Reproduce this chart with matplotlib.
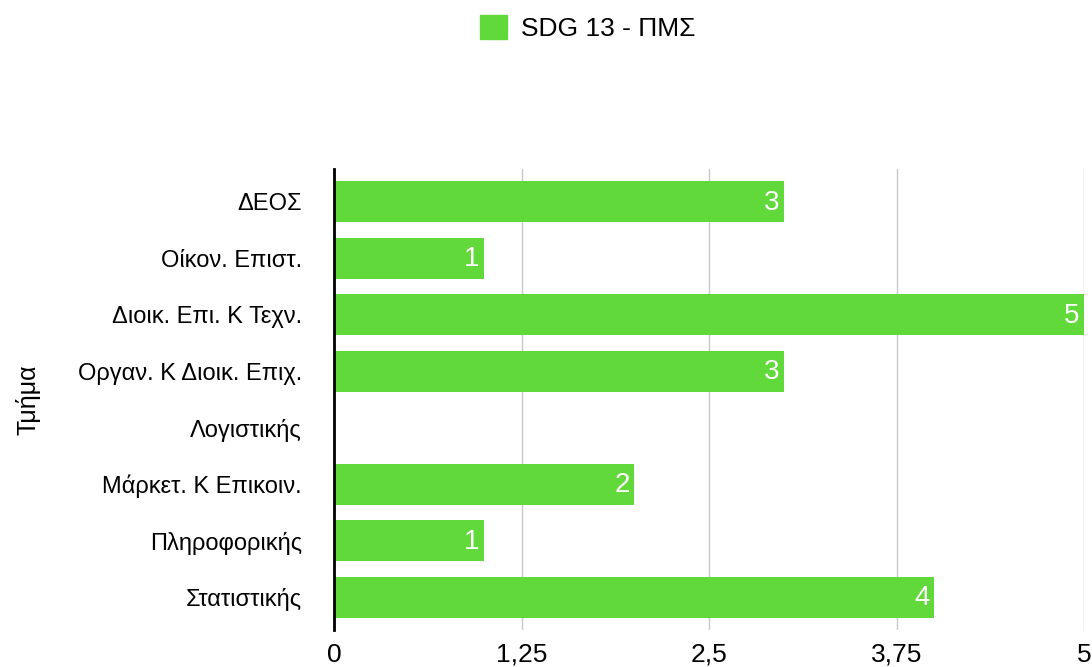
import matplotlib.pyplot as plt
from matplotlib.patches import Patch
from matplotlib.ticker import FuncFormatter

plt.rcParams['font.family'] = ['Liberation Sans', 'DejaVu Sans']

departments = ['ΔΕΟΣ', 'Οίκον. Επιστ.', 'Διοικ. Επι. Κ Τεχν.', 'Οργαν. Κ Διοικ. Επιχ.',
               'Λογιστικής', 'Μάρκετ. Κ Επικοιν.', 'Πληροφορικής', 'Στατιστικής']
values = [3, 1, 5, 3, 0, 2, 1, 4]
xticks = [0, 1.25, 2.5, 3.75, 5]
color = '#62d93a'

fig = plt.figure(figsize=(10.92, 6.67), dpi=100)
ax = fig.add_axes([334 / 1092, 1 - 630 / 667, (1084 - 334) / 1092, (630 - 169) / 667])

ypos = list(range(len(departments)))
bars = ax.barh(ypos, values, height=0.73, color=color, zorder=3)
for y, v in zip(ypos, values):
    if v > 0:
        ax.text(v - 0.03, y + 0.02, str(v), color='white', fontsize=20, ha='right', va='center', zorder=4)

ax.set_ylim(len(departments) - 1 + 0.58, -0.58)
ax.set_xlim(0, 5)
ax.set_yticks(ypos)
ax.set_yticklabels(departments, fontsize=17)
ax.set_xticks(xticks)
ax.xaxis.set_major_formatter(FuncFormatter(lambda v, p: ('%g' % v).replace('.', ',')))
ax.tick_params(axis='x', labelsize=19, length=0, pad=9)
ax.tick_params(axis='y', length=0, pad=23)
ax.grid(axis='x', color='#c8c8c8', linewidth=1, zorder=0)
for s in ['top', 'right', 'bottom']:
    ax.spines[s].set_visible(False)
ax.spines['left'].set_linewidth(2)
ax.spines['left'].set_zorder(5)
ax.set_ylabel('Τμήμα', fontsize=18, labelpad=27)

fig.legend(handles=[Patch(color=color, label='SDG 13 - ΠΜΣ')], loc='center',
           bbox_to_anchor=(588 / 1092, 1 - 28 / 667), frameon=False, fontsize=19,
           handlelength=1.0, handleheight=1.0, handletextpad=0.55)

fig.savefig('out.png', dpi=100)
